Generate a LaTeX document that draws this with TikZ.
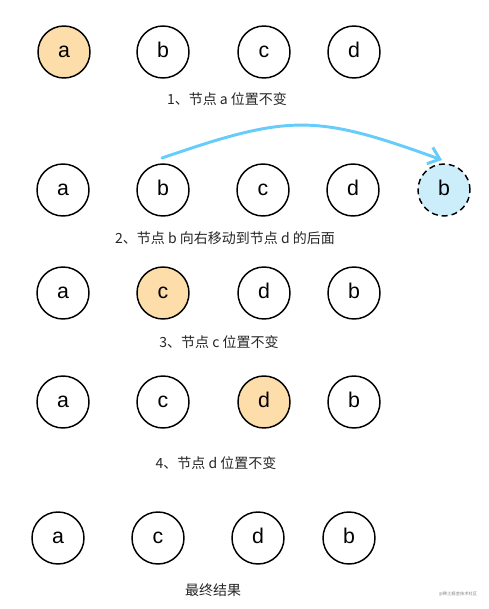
\documentclass[tikz,border=0pt]{standalone}
\usepackage{fontspec}
\setmainfont{Liberation Sans}
\newfontfamily\cjk{Noto Sans CJK SC}
\usetikzlibrary{arrows.meta}
\definecolor{orangefill}{HTML}{FDDEAA}
\definecolor{bluefill}{HTML}{CCEDFA}
\definecolor{arrowblue}{HTML}{66CCFA}
\tikzset{
  nd/.style={circle,draw=black,line width=1.1pt,minimum size=39pt,inner sep=0pt,text height=8.3pt,text depth=0pt,font=\fontsize{16}{16}\selectfont},
  hl/.style={nd,fill=orangefill},
  ghost/.style={nd,fill=bluefill,dash pattern=on 4.5pt off 3pt},
  lbl/.style={font=\cjk\fontsize{10.5}{12}\selectfont,text=black!85},
}
\begin{document}
\begin{tikzpicture}[x=0.75pt,y=-0.75pt]
\useasboundingbox (0,0) rectangle (488,609);
% row 1
\node[hl] (r1a) at (64,52) {a};
\node[nd] (r1b) at (163,52) {b};
\node[nd] (r1c) at (264,52) {c};
\node[nd] (r1d) at (354,52) {d};
\node[lbl] (l1) at (227,99) {1、节点 a 位置不变};
% row 2
\node[nd] (r2a) at (63,190) {a};
\node[nd] (r2b) at (163,190) {b};
\node[nd] (r2c) at (263,190) {c};
\node[nd] (r2d) at (353,190) {d};
\node[ghost] (r2e) at (444,190) {b};
\node[lbl] (l2) at (225,238) {2、节点 b 向右移动到节点 d 的后面};
\coordinate (s) at (162,158);
\coordinate (e) at (442,160);
\draw[arrowblue,line width=2.2pt,line cap=round,-{Straight Barb[length=8pt,width=13pt,line width=2.2pt]}]
  (s) .. controls (290,114) and (315,114) .. (e);
% row 3
\node[nd] (r3a) at (63,293) {a};
\node[hl] (r3c) at (163,293) {c};
\node[nd] (r3d) at (264,293) {d};
\node[nd] (r3b) at (354,293) {b};
\node[lbl] (l3) at (219,342) {3、节点 c 位置不变};
% row 4
\node[nd] (r4a) at (63,402) {a};
\node[nd] (r4c) at (163,402) {c};
\node[hl] (r4d) at (264,402) {d};
\node[nd] (r4b) at (354,402) {b};
\node[lbl] (l4) at (216,463) {4、节点 d 位置不变};
% row 5
\node[nd] (r5a) at (58,538) {a};
\node[nd] (r5c) at (158,538) {c};
\node[nd] (r5d) at (258,538) {d};
\node[nd] (r5b) at (349,538) {b};
\node[lbl] (l5) at (213,590) {最终结果};
\node[font=\cjk\fontsize{3.2}{4}\selectfont,text=black!50] (wm) at (458,594) {@稀土掘金技术社区};
\end{tikzpicture}
\end{document}
